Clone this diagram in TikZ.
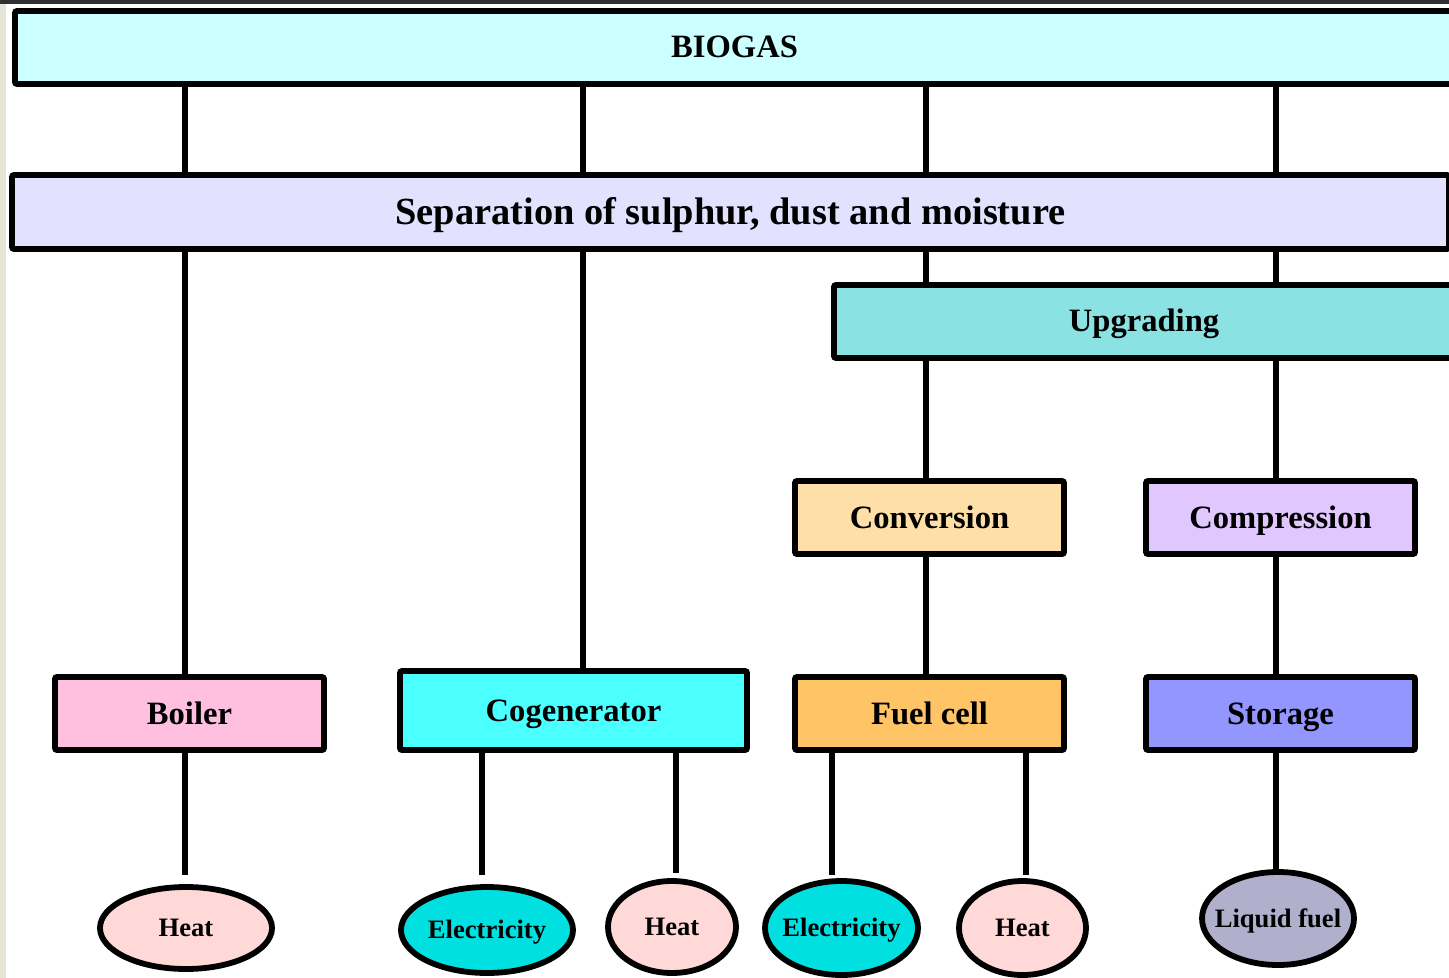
\documentclass[tikz,border=0pt]{standalone}
\usepackage{fontspec}
\setmainfont{Liberation Serif}
\usetikzlibrary{shapes.geometric}
\definecolor{cBiogas}{HTML}{CCFFFF}
\definecolor{cSep}{HTML}{E2E2FF}
\definecolor{cUpg}{HTML}{8AE2E2}
\definecolor{cConv}{HTML}{FFDFA8}
\definecolor{cComp}{HTML}{E0C8FF}
\definecolor{cBoil}{HTML}{FFC0E0}
\definecolor{cCogen}{HTML}{4CFFFF}
\definecolor{cFuel}{HTML}{FFC466}
\definecolor{cStor}{HTML}{9496FF}
\definecolor{cHeat}{HTML}{FFD8D8}
\definecolor{cElec}{HTML}{00E0E0}
\definecolor{cLiq}{HTML}{B0B0CC}
\definecolor{cStrip}{HTML}{E6E4D6}
\definecolor{cTop}{HTML}{303030}
\tikzset{
  box/.style={draw, line width=2.9pt, inner sep=0pt, rounded corners=1pt,
    text height=11pt, text depth=0.5pt,
    font=\bfseries\fontsize{16.3}{18}\selectfont},
  ell/.style={ellipse, draw, line width=2.9pt, inner sep=0pt,
    text height=9pt, text depth=0.3pt,
    font=\bfseries\fontsize{13.3}{15}\selectfont},
  link/.style={line width=3pt}
}
\newcommand{\etext}[1]{\makebox[0pt]{#1}}
\begin{document}
\begin{tikzpicture}[x=0.5pt,y=-0.5pt]
\clip (0,0) rectangle (1449,978);
\fill[white] (0,0) rectangle (1449,978);
\fill[cStrip] (0,0) rectangle (6,978);
\fill[cTop] (0,0) rectangle (1449,4);

% boxes
\node[box, fill=cBiogas, minimum width=719.5pt, minimum height=36.5pt] (biogas) at (734.5,47.5) {BIOGAS};
\node[box, fill=cSep, minimum width=718.5pt, minimum height=37pt,
  text height=13pt, text depth=0.3pt,
  font=\bfseries\fontsize{19.2}{22}\selectfont] (sep) at (730.5,212) {Separation of sulphur, dust and moisture};
\node[box, fill=cUpg, minimum width=310pt, minimum height=36.5pt] (upg) at (1144,321.5) {Upgrading};
\node[box, fill=cConv, minimum width=134.5pt, minimum height=36.5pt] (conv) at (929.5,517.5) {Conversion};
\node[box, fill=cComp, minimum width=134.5pt, minimum height=36.5pt] (comp) at (1280.5,517.5) {Compression};
\node[box, fill=cBoil, minimum width=134.5pt, minimum height=36.5pt] (boil) at (189.5,713.5) {Boiler};
\node[box, fill=cCogen, minimum width=173.5pt, minimum height=39.5pt] (cogen) at (573.5,710.5) {Cogenerator};
\node[box, fill=cFuel, minimum width=134.5pt, minimum height=36.5pt] (fuel) at (929.5,713.5) {Fuel cell};
\node[box, fill=cStor, minimum width=134.5pt, minimum height=36.5pt] (stor) at (1280.5,713.5) {Storage};

% ellipses
\node[ell, fill=cHeat, minimum width=86pt, minimum height=41pt] (heatA) at (186,928) {\etext{Heat}};
\node[ell, fill=cElec, minimum width=86pt, minimum height=43pt] (elecA) at (487,930) {\etext{Electricity}};
\node[ell, fill=cHeat, minimum width=64pt, minimum height=46pt] (heatB) at (672,927) {\etext{Heat}};
\node[ell, fill=cElec, minimum width=76.5pt, minimum height=47pt] (elecB) at (841.5,928) {\etext{Electricity}};
\node[ell, fill=cHeat, minimum width=63.5pt, minimum height=47pt] (heatC) at (1022.5,928) {\etext{Heat}};
\node[ell, fill=cLiq, minimum width=76pt, minimum height=46.5pt] (liq) at (1278,918.5) {\etext{Liquid fuel}};

% x positions of the connectors
\coordinate (xa) at (185,0);
\coordinate (xb) at (583,0);
\coordinate (xc) at (926,0);
\coordinate (xd) at (1276,0);
\coordinate (xe) at (482,0);
\coordinate (xf) at (676,0);
\coordinate (xg) at (832,0);
\coordinate (xh) at (1026,0);

% connectors
\draw[link] (biogas.south -| xa) -- (sep.north -| xa);
\draw[link] (biogas.south -| xb) -- (sep.north -| xb);
\draw[link] (biogas.south -| xc) -- (sep.north -| xc);
\draw[link] (biogas.south -| xd) -- (sep.north -| xd);
\draw[link] (sep.south -| xa) -- (boil.north -| xa);
\draw[link] (sep.south -| xb) -- (cogen.north -| xb);
\draw[link] (sep.south -| xc) -- (upg.north -| xc);
\draw[link] (sep.south -| xd) -- (upg.north -| xd);
\draw[link] (upg.south -| xc) -- (conv.north -| xc);
\draw[link] (upg.south -| xd) -- (comp.north -| xd);
\draw[link] (conv.south -| xc) -- (fuel.north -| xc);
\draw[link] (comp.south -| xd) -- (stor.north -| xd);
\draw[link, shorten >=4.5pt] (boil.south -| xa) -- (heatA.north -| xa);
\draw[link, shorten >=4.5pt] (cogen.south -| xe) -- (elecA.north -| xe);
\draw[link, shorten >=2.5pt] (cogen.south -| xf) -- (heatB.north -| xf);
\draw[link, shorten >=1.5pt] (fuel.south -| xg) -- (elecB.north -| xg);
\draw[link, shorten >=1.5pt] (fuel.south -| xh) -- (heatC.north -| xh);
\draw[link] (stor.south -| xd) -- (liq.north -| xd);
\end{tikzpicture}
\end{document}
